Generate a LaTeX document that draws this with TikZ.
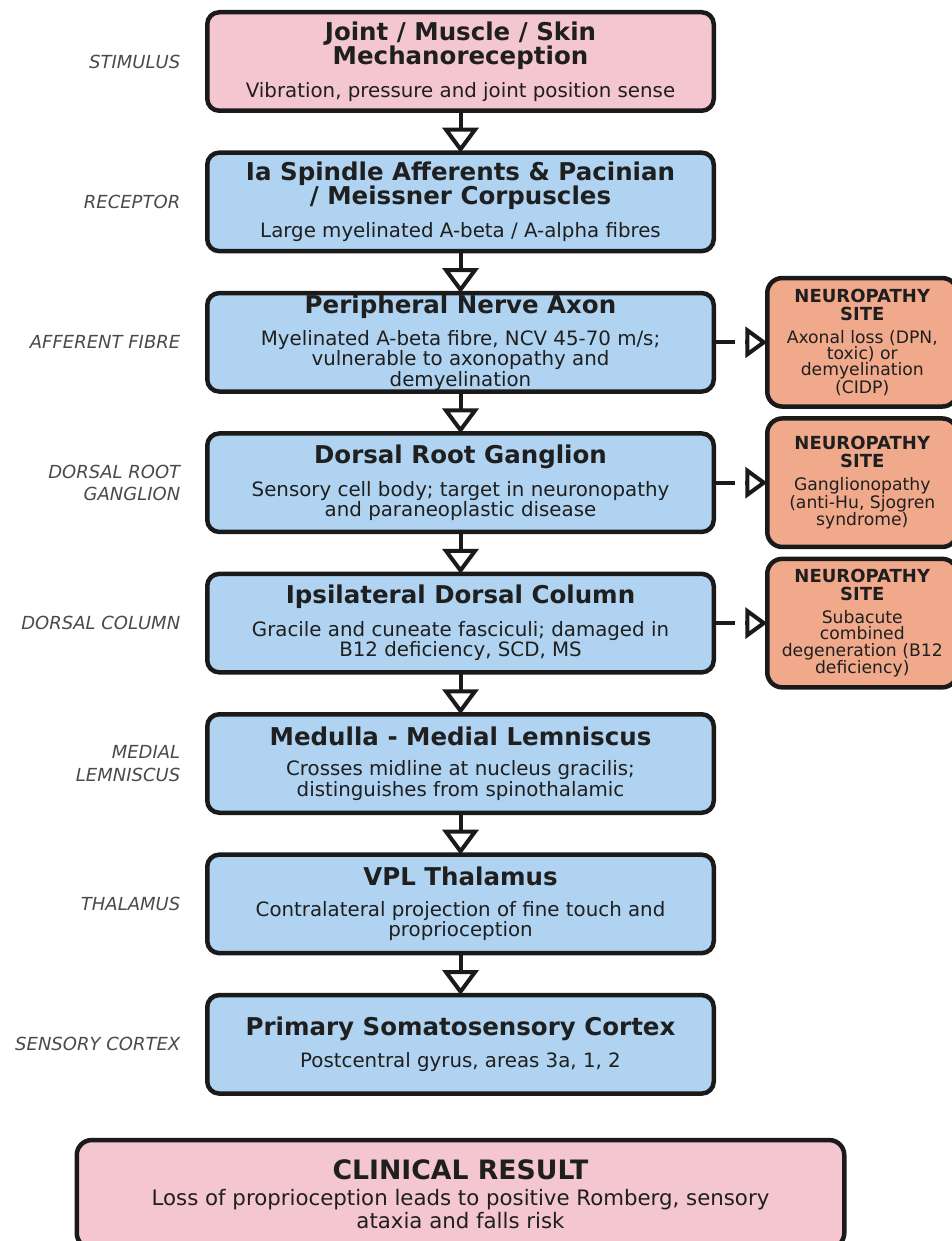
\documentclass[tikz,border=0pt]{standalone}
\usepackage{fontspec}
\setmainfont{DejaVu Sans}
\usetikzlibrary{arrows.meta}
\usetikzlibrary{positioning}

\definecolor{stimpink}{HTML}{F4C6CF}
\definecolor{pathblue}{HTML}{AFD3F0}
\definecolor{sitesalmon}{HTML}{F1A98C}
\definecolor{edgeblack}{HTML}{1A1A1A}
\definecolor{textblack}{HTML}{1F1F1F}
\definecolor{levelgray}{HTML}{4A4A4A}

% plain word spaces of the current font
\newcommand{\wordspace}{\spaceskip=\fontdimen2\font\relax\xspaceskip=\fontdimen2\font\relax}
% title and detail lines of one stage
\newcommand{\stagetext}[2]{{\fontsize{24.5}{24}\selectfont\bfseries\wordspace #1\par}\vspace{11.5pt}{\fontsize{19.8}{19}\selectfont\wordspace #2\par}}
\newcommand{\sitetext}[1]{{\fontsize{18}{18}\selectfont\bfseries\wordspace NEUROPATHY\\SITE\par}\vspace{7pt}{\fontsize{17.2}{16.3}\selectfont\wordspace #1\par}}

\begin{document}
\begin{tikzpicture}[x=1pt, y=1pt,
                stage/.style={rectangle, rounded corners=12pt, draw=edgeblack, line width=4.5pt, fill=pathblue, text=textblack, outer sep=0pt,
                    minimum width=506.5pt, minimum height=98.5pt, text width=495pt, align=center, inner sep=0pt},
                site/.style={rectangle, rounded corners=15pt, draw=edgeblack, line width=4.5pt, fill=sitesalmon, text=textblack, outer sep=0pt,
                    minimum width=190pt, minimum height=128.5pt, text width=182pt, align=center, inner sep=0pt},
                levelname/.style={font=\fontsize{18}{22.5}\selectfont\itshape, text=levelgray, align=right, inner sep=0pt, outer sep=0pt},
                flow/.style={draw=edgeblack, line width=4pt, -{Triangle[open, length=25pt, width=36pt]}},
                branch/.style={draw=edgeblack, line width=4pt},
                branchtip/.style={draw=edgeblack, line width=4pt, -{Triangle[open, length=22pt, width=31pt]}},
                node distance=41.9pt
            ]
            \useasboundingbox (0,0) rectangle (952,-1241);

            \node[stage, fill=stimpink] (stim) at (460.5,-61.5) {\stagetext{Joint / Muscle / Skin\\Mechanoreception}{Vibration, pressure and joint position sense}};
            \node[stage, below=of stim] (recep) {\stagetext{Ia Spindle Afferents \& Pacinian\\/ Meissner Corpuscles}{Large myelinated A-beta / A-alpha fibres}};
            \node[stage, below=of recep] (axon) {\stagetext{Peripheral Nerve Axon}{Myelinated A-beta fibre, NCV 45-70 m/s;\\vulnerable to axonopathy and\\demyelination}};
            \node[stage, below=of axon] (drg) {\stagetext{Dorsal Root Ganglion}{Sensory cell body; target in neuronopathy\\and paraneoplastic disease}};
            \node[stage, below=of drg] (column) {\stagetext{Ipsilateral Dorsal Column}{Gracile and cuneate fasciculi; damaged in\\B12 deficiency, SCD, MS}};
            \node[stage, below=of column] (medulla) {\stagetext{Medulla - Medial Lemniscus}{Crosses midline at nucleus gracilis;\\distinguishes from spinothalamic}};
            \node[stage, below=of medulla] (vpl) {\stagetext{VPL Thalamus}{Contralateral projection of fine touch and\\proprioception}};
            \node[stage, below=of vpl] (cortex) {\stagetext{Primary Somatosensory Cortex}{Postcentral gyrus, areas 3a, 1, 2}};

            \node[stage, fill=stimpink, below=46.5pt of cortex, minimum width=767.5pt, minimum height=108pt, text width=740pt, rounded corners=15pt] (result)
                {{\fontsize{26.7}{27}\selectfont\bfseries\wordspace CLINICAL RESULT\par}\vspace{3pt}{\fontsize{21.3}{23}\selectfont\wordspace Loss of proprioception leads to positive Romberg, sensory\\ataxia and falls risk\par}};

            % level names on the left
            \node[levelname, left=27pt of stim] {STIMULUS};
            \node[levelname, left=27pt of recep] {RECEPTOR};
            \node[levelname, left=27pt of axon] {AFFERENT FIBRE};
            \node[levelname, left=27pt of drg] {DORSAL ROOT\\GANGLION};
            \node[levelname, left=27pt of column] {DORSAL COLUMN};
            \node[levelname, left=27pt of medulla] {MEDIAL\\LEMNISCUS};
            \node[levelname, left=27pt of vpl] {THALAMUS};
            \node[levelname, left=27pt of cortex] {SENSORY CORTEX};

            % neuropathy sites
            \node[site, right=53.5pt of axon] (site1) {\sitetext{Axonal loss (DPN,\\toxic) or\\demyelination\\(CIDP)}};
            \node[site, right=53.5pt of drg] (site2) {\sitetext{Ganglionopathy\\(anti-Hu, Sjogren\\syndrome)}};
            \node[site, right=53.5pt of column] (site3) {\sitetext{Subacute\\combined\\degeneration (B12\\deficiency)}};

            \path[flow] (stim) -- (recep);
            \path[flow] (recep) -- (axon);
            \path[flow] (axon) -- (drg);
            \path[flow] (drg) -- (column);
            \path[flow] (column) -- (medulla);
            \path[flow] (medulla) -- (vpl);
            \path[flow] (vpl) -- (cortex);
            \path[branch] (axon.east) -- ([xshift=-32pt]site1.west);
            \path[branchtip] ([xshift=-22pt]site1.west) -- (site1.west);
            \path[branch] (drg.east) -- ([xshift=-32pt]site2.west);
            \path[branchtip] ([xshift=-22pt]site2.west) -- (site2.west);
            \path[branch] (column.east) -- ([xshift=-32pt]site3.west);
            \path[branchtip] ([xshift=-22pt]site3.west) -- (site3.west);
        \end{tikzpicture}
\end{document}
